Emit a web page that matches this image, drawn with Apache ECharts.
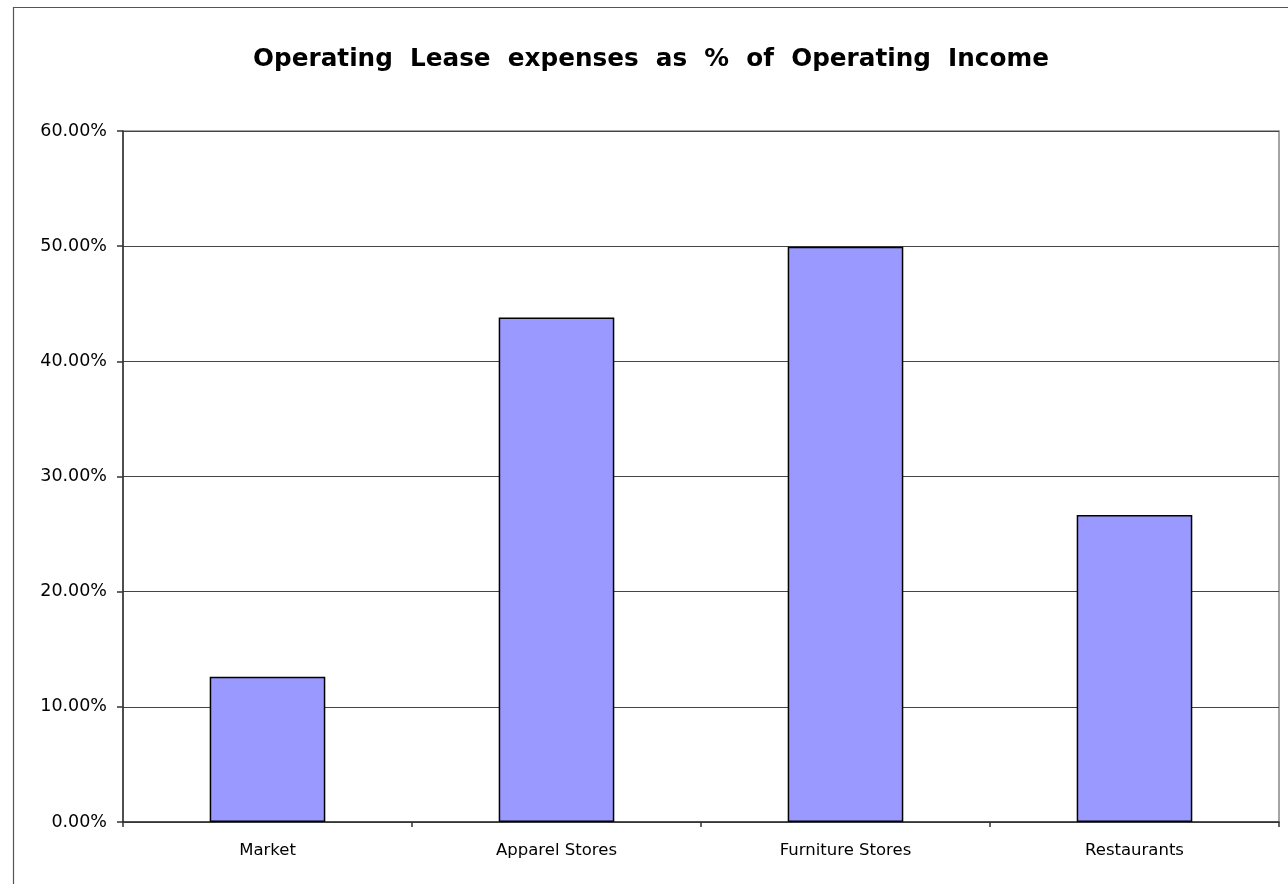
<!DOCTYPE html>
<html>
<head>
<meta charset="utf-8">
<script src="https://cdn.jsdelivr.net/npm/echarts@6/dist/echarts.min.js"></script>
<style>html,body{margin:0;padding:0;background:#fff;}#c{width:1288px;height:884px;}</style>
</head>
<body>
<div id="c"></div>
<script>
const titleText = 'Operating  Lease  expenses  as  %  of  Operating  Income';
const categories = ['Market', 'Apparel Stores', 'Furniture Stores', 'Restaurants'];
const values = [0.1262, 0.4380, 0.4995, 0.2665];
const yMin = 0, yMax = 0.6, yStep = 0.1;

const chart = echarts.init(document.getElementById('c'), null, {renderer: 'canvas'});
chart.setOption({
  animation: false,
  backgroundColor: '#fff',
  title: {
    text: titleText,
    left: 646, top: 42, textAlign: 'center',
    textStyle: {fontFamily: 'DejaVu Sans', fontSize: 24.7, fontWeight: 'bold', color: '#000'}
  },
  graphic: [{
    type: 'rect', left: 11, top: 5, silent: true,
    shape: {width: 1400, height: 1000},
    style: {fill: 'none', stroke: '#555', lineWidth: 1.2}
  }],
  grid: {left: 123, right: 9, top: 131, bottom: 62, show: true, borderColor: '#888', borderWidth: 1.5, backgroundColor: 'transparent'},
  xAxis: {
    type: 'category', data: categories,
    axisLine: {lineStyle: {color: '#333', width: 1.5}},
    axisTick: {show: true, alignWithLabel: false, length: 5, lineStyle: {color: '#333', width: 1.5}},
    axisLabel: {fontFamily: 'DejaVu Sans', fontSize: 16.5, color: '#000', margin: 20}
  },
  yAxis: {
    type: 'value', min: yMin, max: yMax, interval: yStep,
    axisLine: {show: true, lineStyle: {color: '#333', width: 1.5}},
    axisTick: {show: true, length: 6, lineStyle: {color: '#333', width: 1.5}},
    axisLabel: {fontFamily: 'DejaVu Sans', fontSize: 17.5, color: '#000', margin: 16,
      formatter: v => (v * 100).toFixed(2) + '%'},
    splitLine: {show: true, lineStyle: {color: '#444', width: 1}}
  },
  series: [{
    type: 'bar', data: values, barWidth: '40%',
    itemStyle: {color: '#9999FF', borderColor: '#000', borderWidth: 1.5}
  }]
});
</script>
</body>
</html>
